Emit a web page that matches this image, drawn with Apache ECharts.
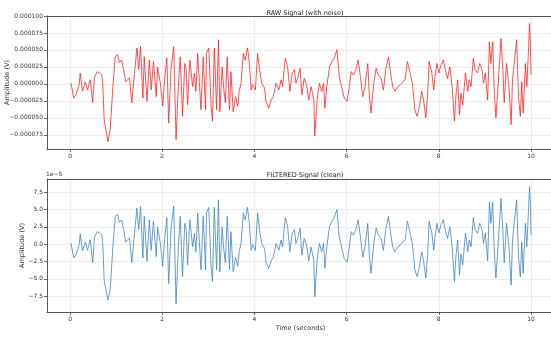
<!DOCTYPE html>
<html>
<head>
<meta charset="utf-8">
<script src="https://cdn.jsdelivr.net/npm/echarts@6/dist/echarts.min.js"></script>
<style>
  html, body { margin: 0; padding: 0; background: #fff; }
  #chart { width: 551px; height: 338px; }
</style>
</head>
<body>
<div id="chart"></div>
<script>
// time axis (seconds)
var timeSec = [0.02,0.08,0.13,0.20,0.22,0.27,0.33,0.38,0.44,0.49,0.53,0.59,0.64,0.69,0.71,0.74,0.82,0.87,0.93,0.98,
  1.03,1.07,1.12,1.16,1.21,1.29,1.34,1.40,1.45,1.49,1.53,1.58,1.61,1.67,1.72,1.76,1.81,1.87,1.90,1.96,
  2.01,2.05,2.10,2.14,2.19,2.25,2.30,2.35,2.39,2.44,2.49,
  2.52,2.55,2.60,2.66,2.70,2.73,2.77,2.84,2.89,2.94,2.96,3.01,3.06,3.09,3.13,3.18,3.22,3.25,3.30,3.33,
  3.37,3.41,3.46,3.49,3.54,3.59,3.64,3.67,3.71,3.76,3.80,3.85,3.89,3.93,3.96,4.02,4.07,4.11,4.16,4.22,
  4.25,4.31,4.36,4.41,4.47,4.53,4.58,4.61,4.67,4.72,4.77,4.82,4.87,4.90,4.94,4.99,5.03,5.08,5.13,5.18,5.23,
  5.29,5.31,5.36,5.41,5.46,5.50,5.53,5.57,5.63,5.68,5.73,5.79,5.84,5.89,5.95,6.01,6.06,6.10,6.15,6.20,
  6.25,6.30,6.35,6.40,6.46,6.49,6.53,6.59,6.64,6.69,6.75,6.80,6.85,6.91,6.95,7.00,7.05,7.11,7.17,7.22,
  7.27,7.32,7.38,7.43,7.48,7.53,7.58,7.63,7.67,7.72,7.76,7.79,7.85,7.89,7.92,7.96,
  8.00,8.05,8.10,8.14,8.19,8.24,8.29,8.34,8.37,8.41,8.45,8.48,8.52,8.58,8.63,8.66,8.70,8.75,8.79,8.84,
  8.89,8.94,8.97,9.01,9.06,9.10,9.13,9.17,9.20,9.24,9.29,9.35,9.39,9.42,9.47,9.52,9.57,9.60,9.64,9.69,
  9.73,9.77,9.80,9.83,9.88,9.91,9.95,9.97,9.99,10.00];

// raw signal, in units of 1e-5 V
var rawSignal = [0.15,-2.1,-1.6,-0.1,1.6,-1.1,0.3,-0.9,0.6,-2.8,1.0,1.8,1.6,1.3,0.1,-5.3,-8.5,-6.8,-0.4,4.0,
  4.3,3.1,3.5,2.1,0.3,0.9,-2.8,1.6,5.3,2.1,5.5,-2.1,4.0,-2.6,3.5,-0.9,3.3,-1.9,2.5,0.1,
  -3.3,0.6,3.8,-5.8,2.1,5.5,-8.2,-0.4,4.0,-4.8,3.0,
  2.1,-3.1,3.5,-0.4,1.6,-1.1,4.5,-3.8,4.0,-3.8,4.5,5.3,-3.3,-5.5,5.3,-3.8,6.5,-4.1,2.5,-0.4,
  -2.8,4.0,-3.8,1.8,-4.1,-1.9,-3.3,-1.1,0.1,4.5,3.5,5.3,3.1,-0.9,-0.1,-0.9,4.5,2.1,0.1,-0.6,
  -2.6,-3.6,-2.4,-1.9,0.1,-0.9,0.6,-0.4,3.8,2.5,-1.1,1.6,2.1,0.1,0.8,2.3,-1.6,0.8,-0.1,-2.4,-0.4,
  -2.4,-7.7,-2.4,0.1,-1.1,0.1,-3.6,-0.4,2.5,3.3,3.8,5.0,1.1,-0.4,-2.1,-2.6,-0.4,1.8,1.3,2.1,
  3.5,1.1,-1.9,-0.4,3.0,-1.4,-4.3,0.1,2.3,1.3,0.8,-0.9,2.1,4.0,1.8,-0.4,-1.1,-0.4,-0.1,0.3,
  0.6,3.3,1.6,-0.1,-3.8,-4.8,-3.3,-1.1,-2.4,-5.0,-1.4,3.3,1.6,-0.9,1.1,3.0,
  1.6,2.8,3.5,2.1,0.8,2.5,-0.4,-5.5,-1.9,0.6,-4.6,-1.4,-3.1,1.6,-1.1,0.6,-0.4,3.8,2.1,1.6,
  3.0,2.1,0.1,1.6,-2.4,6.2,3.0,6.2,-0.4,-5.0,0.1,6.7,2.1,-2.8,3.0,-0.1,-6.0,0.6,3.3,6.5,
  -1.9,-4.8,0.3,-4.3,3.0,-0.4,5.5,8.9,5.5,1.3];

// filtered signal, in units of 1e-5 V
var filteredSignal = [0.15,-2.0,-1.5,-0.1,1.5,-1.0,0.3,-0.9,0.6,-2.7,1.0,1.8,1.6,1.3,0.1,-5.2,-8.1,-6.6,-0.4,4.0,
  4.3,3.1,3.5,2.1,0.3,0.9,-2.7,1.6,5.2,2.1,5.4,-2.0,4.0,-2.5,3.5,-0.9,3.3,-1.8,2.5,0.1,
  -3.2,0.6,3.8,-5.7,2.1,5.5,-8.6,-0.4,4.0,-4.7,3.0,
  2.1,-3.0,3.5,-0.4,1.6,-1.1,4.5,-3.7,4.0,-3.7,4.5,5.3,-3.2,-5.4,5.3,-3.7,6.4,-4.0,2.5,-0.4,
  -2.7,4.0,-3.7,1.8,-4.0,-1.9,-3.2,-1.1,0.1,4.5,3.5,5.3,3.1,-0.9,-0.1,-0.9,4.5,2.1,0.1,-0.6,
  -2.6,-3.5,-2.4,-1.9,0.1,-0.9,0.6,-0.4,3.8,2.5,-1.1,1.6,2.1,0.1,0.8,2.3,-1.6,0.8,-0.1,-2.4,-0.4,
  -2.4,-7.6,-2.4,0.1,-1.1,0.1,-3.5,-0.4,2.5,3.3,3.8,5.0,1.1,-0.4,-2.1,-2.6,-0.4,1.8,1.3,2.1,
  3.5,1.1,-1.9,-0.4,3.0,-1.4,-4.2,0.1,2.3,1.3,0.8,-0.9,2.1,4.0,1.8,-0.4,-1.1,-0.4,-0.1,0.3,
  0.6,3.3,1.6,-0.1,-3.7,-4.7,-3.2,-1.1,-2.4,-4.9,-1.4,3.3,1.6,-0.9,1.1,3.0,
  1.6,2.8,3.5,2.1,0.8,2.5,-0.4,-5.4,-1.9,0.6,-4.5,-1.4,-3.0,1.6,-1.1,0.6,-0.4,3.8,2.1,1.6,
  3.0,2.1,0.1,1.6,-2.4,6.1,3.0,6.1,-0.4,-4.9,0.1,6.6,2.1,-2.7,3.0,-0.1,-5.9,0.6,3.3,6.4,
  -1.9,-4.7,0.3,-4.2,3.0,-0.4,5.4,8.3,5.4,1.3];

var xTicks = [0, 2, 4, 6, 8, 10];
var rawTicks = [-7.5, -5, -2.5, 0, 2.5, 5, 7.5, 10];
var filteredTicks = [-7.5, -5, -2.5, 0, 2.5, 5, 7.5];

function pairs(xs, ys) {
    var out = [];
    for (var i = 0; i < xs.length; i++) {
        out.push([xs[i], ys[i]]);
    }
    return out;
}
function minus(s) { return s.replace('-', '\u2212'); }

var font = 'DejaVu Sans';
var spine = { color: '#555', width: 1 };
var labelStyle = { fontFamily: font, fontSize: 6, color: '#333' };
var gridLine = { show: true, lineStyle: { color: '#e8e8e8', width: 0.8 } };

function xAxisFor(gridIndex, withName) {
    var ax = {
        type: 'value', gridIndex: gridIndex, min: -0.5, max: 10.5, position: 'bottom',
        axisLine: { show: true, onZero: false, lineStyle: spine },
        axisTick: { show: true, length: 3, customValues: xTicks, lineStyle: { color: '#444', width: 0.8 } },
        axisLabel: Object.assign({ customValues: xTicks, margin: 4 }, labelStyle),
        splitLine: gridLine
    };
    if (withName) {
        ax.name = 'Time (seconds)';
        ax.nameLocation = 'middle';
        ax.nameGap = 13;
        ax.nameTextStyle = { fontFamily: font, fontSize: 6.5, color: '#333' };
    }
    return ax;
}
// top spine only
function topSpine(gridIndex) {
    return {
        type: 'value', gridIndex: gridIndex, min: -0.5, max: 10.5, position: 'top',
        axisLine: { show: true, onZero: false, lineStyle: spine },
        axisTick: { show: false }, axisLabel: { show: false }, splitLine: { show: false }
    };
}

var myChart = echarts.init(document.getElementById('chart'));
var option = {
    backgroundColor: '#fff',
    animation: false,
    title: [
        { text: 'RAW Signal (with noise)', left: 300, top: 5, textAlign: 'center',
          textStyle: { fontFamily: font, fontSize: 6.5, fontWeight: 'normal', color: '#222' } },
        { text: 'FILTERED Signal (clean)', left: 300, top: 167, textAlign: 'center',
          textStyle: { fontFamily: font, fontSize: 6.5, fontWeight: 'normal', color: '#222' } }
    ],
    graphic: [
        { type: 'text', left: 46, top: 171, style: { text: '1e\u22125', font: '6px "DejaVu Sans"', fill: '#333' } }
    ],
    grid: [
        { left: 47, top: 16, width: 507, height: 133, outerBoundsMode: 'none', containLabel: false },
        { left: 47, top: 179, width: 507, height: 133, outerBoundsMode: 'none', containLabel: false }
    ],
    xAxis: [xAxisFor(0, false), xAxisFor(1, true), topSpine(0), topSpine(1)],
    yAxis: [
        {
            type: 'value', gridIndex: 0, min: -9.6, max: 10,
            name: 'Amplitude (V)', nameLocation: 'middle', nameGap: 36, nameMoveOverlap: false,
            nameTextStyle: { fontFamily: font, fontSize: 6.5, color: '#333' },
            axisLine: { show: true, onZero: false, lineStyle: spine },
            axisTick: { show: true, length: 3, customValues: rawTicks, lineStyle: { color: '#444', width: 0.8 } },
            axisLabel: Object.assign({
                customValues: rawTicks, margin: 4,
                formatter: function (v) { return minus((v * 1e-5).toFixed(6)); }
            }, labelStyle),
            splitLine: gridLine
        },
        {
            type: 'value', gridIndex: 1, min: -9.8, max: 9.4,
            name: 'Amplitude (V)', nameLocation: 'middle', nameGap: 21, nameMoveOverlap: false,
            nameTextStyle: { fontFamily: font, fontSize: 6.5, color: '#333' },
            axisLine: { show: true, onZero: false, lineStyle: spine },
            axisTick: { show: true, length: 3, customValues: filteredTicks, lineStyle: { color: '#444', width: 0.8 } },
            axisLabel: Object.assign({
                customValues: filteredTicks, margin: 4,
                formatter: function (v) { return minus(v.toFixed(1)); }
            }, labelStyle),
            splitLine: gridLine
        }
    ],
    series: [
        {
            name: 'RAW', type: 'line', xAxisIndex: 0, yAxisIndex: 0,
            data: pairs(timeSec, rawSignal), showSymbol: false,
            lineStyle: { color: '#ff1a1a', width: 0.9, opacity: 0.85 }
        },
        {
            name: 'FILTERED', type: 'line', xAxisIndex: 1, yAxisIndex: 1,
            data: pairs(timeSec, filteredSignal), showSymbol: false,
            lineStyle: { color: '#3a7fb8', width: 0.9, opacity: 0.85 }
        }
    ]
};
myChart.setOption(option);
</script>
</body>
</html>
